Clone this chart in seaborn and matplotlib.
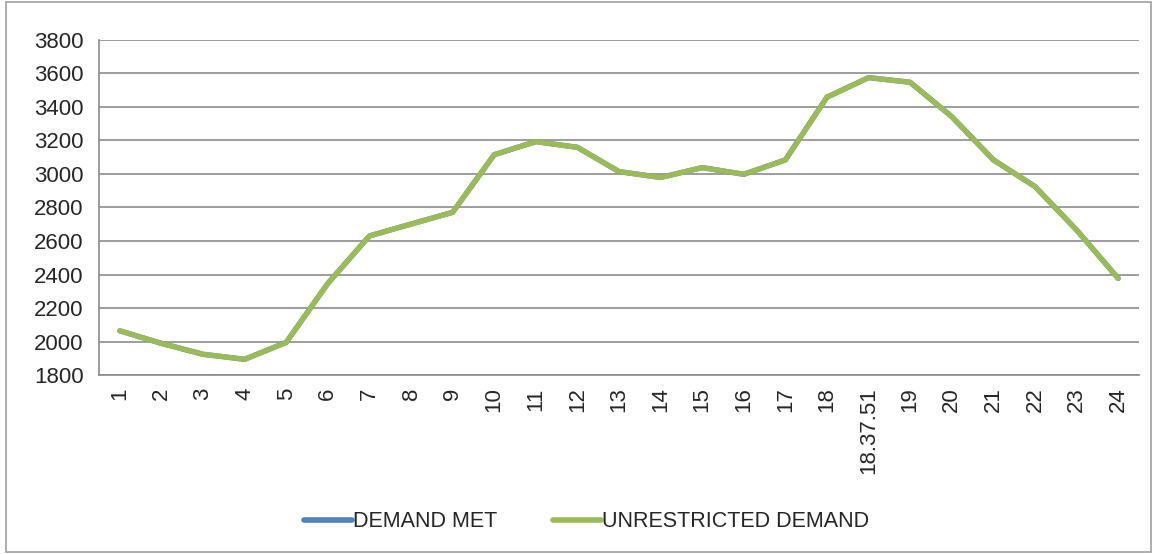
import matplotlib
matplotlib.use("Agg")
import matplotlib.pyplot as plt
from matplotlib.lines import Line2D
from matplotlib.patches import Rectangle
from matplotlib.ticker import FixedLocator
import numpy as np
import pandas as pd
import seaborn as sns

hours = ["1", "2", "3", "4", "5", "6", "7", "8", "9", "10", "11", "12", "13", "14",
         "15", "16", "17", "18", "18.37.51", "19", "20", "21", "22", "23", "24"]
demand_met = [2064, 1989, 1924, 1894, 1995, 2347, 2630, 2701, 2771, 3115, 3193, 3159,
              3014, 2979, 3038, 2998, 3084, 3458, 3575, 3547, 3342, 3084, 2925, 2666, 2377]
unrestricted = [2064, 1989, 1924, 1894, 1995, 2347, 2630, 2701, 2771, 3115, 3193, 3159,
                3014, 2979, 3038, 2998, 3084, 3458, 3575, 3547, 3342, 3084, 2925, 2666, 2377]
series_names = ["DEMAND MET", "UNRESTRICTED DEMAND"]
colors = ["#4F81BD", "#9BBB59"]

df = pd.concat([
    pd.DataFrame({"hour": hours, "value": demand_met, "series": series_names[0]}),
    pd.DataFrame({"hour": hours, "value": unrestricted, "series": series_names[1]}),
])

sns.set_style("white")
plt.rcParams["font.family"] = ["Liberation Sans Narrow", "Liberation Sans", "DejaVu Sans"]

fig = plt.figure(figsize=(11.57, 5.54), dpi=100)
ax = fig.add_axes([0.0856, 0.323, 0.8988, 0.605])

sns.lineplot(data=df, x="hour", y="value", hue="series", palette=colors,
             linewidth=3.8, ax=ax, legend=False, sort=False)

grid_c = "#8c8c8c"
ax.set_xlim(-0.5, len(hours) - 0.5)
ax.set_ylim(1800, 3800)
ax.set_yticks(np.arange(1800, 3801, 200))
ax.yaxis.grid(True, color=grid_c, linewidth=1.2)
ax.xaxis.grid(False)
ax.set_axisbelow(True)

ax.set_xticks(range(len(hours)))
ax.set_xticklabels(hours, rotation=90, fontsize=16)
ax.xaxis.set_minor_locator(FixedLocator(np.arange(-0.5, len(hours), 1.0)))
ax.tick_params(axis="x", which="major", length=0, pad=9)
ax.tick_params(axis="x", which="minor", length=7, width=1.2, color=grid_c, direction="out")
ax.tick_params(axis="y", which="major", length=8, width=1.2, color=grid_c,
               direction="out", labelsize=16, pad=3)
ax.set_xlabel("")
ax.set_ylabel("")

for side in ["top", "right"]:
    ax.spines[side].set_visible(False)
for side in ["left", "bottom"]:
    ax.spines[side].set_color(grid_c)
    ax.spines[side].set_linewidth(1.2)

handles = [Line2D([0], [0], color=c, linewidth=4, solid_capstyle="round") for c in colors]
fig.legend(handles, series_names, loc="center", bbox_to_anchor=(0.507, 0.058), ncol=2,
           frameon=False, fontsize=15.5, handlelength=2.2, handletextpad=0.05,
           columnspacing=2.6)

fig.add_artist(Rectangle((0.005, 0.004), 0.99, 0.992, transform=fig.transFigure,
                         fill=False, edgecolor="#a0a0a0", linewidth=1.2))

fig.savefig("out.png", dpi=100)
